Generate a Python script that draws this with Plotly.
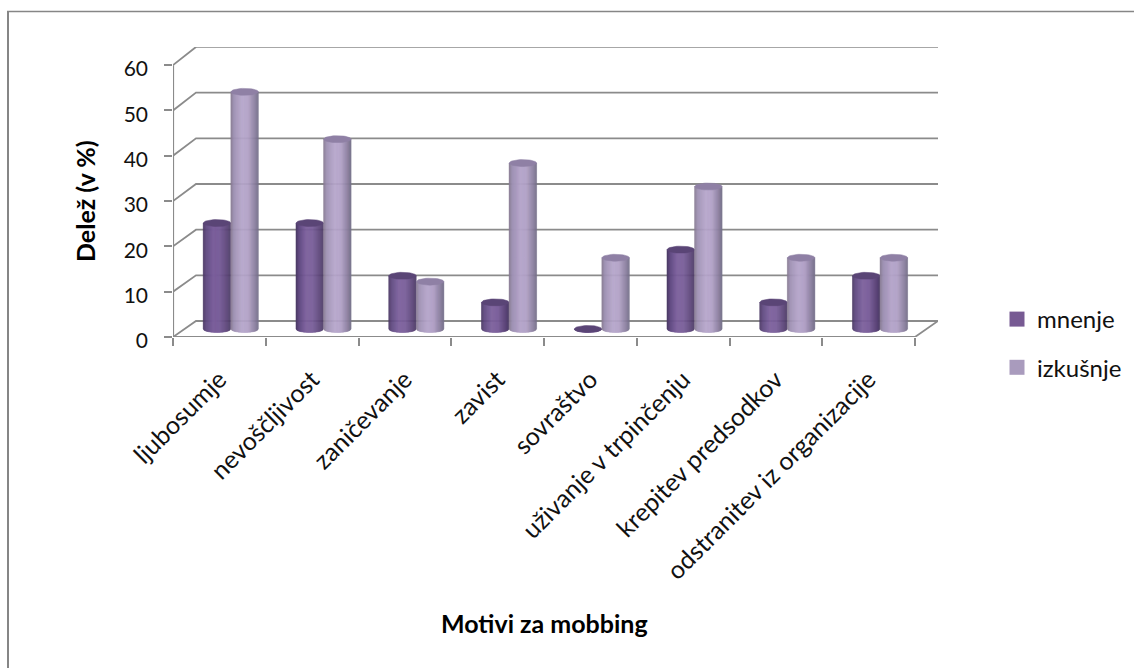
import math
import plotly.graph_objects as go

# Chart content
categories = ["ljubosumje", "nevoščljivost", "zaničevanje", "zavist", "sovraštvo",
              "uživanje v trpinčenju", "krepitev predsodkov", "odstranitev iz organizacije"]
mnenje = [23.5, 23.5, 11.8, 5.9, 0.0, 17.6, 5.9, 11.8]
izkusnje = [52.6, 42.1, 10.5, 36.8, 15.8, 31.6, 15.8, 15.8]
y_ticks = [0, 10, 20, 30, 40, 50, 60]

# Canvas and plot-area placement (pixels)
W, H = 1134, 668
LEFT, RIGHT, TOP, BOTTOM = 173, 938, 47, 337
LABEL_DROP = 4        # value labels sit slightly below their tick marks
EXTRA = LABEL_DROP + 2
X_MAX = 8.248
Y_MAX = 64.0

# Pseudo-3D box: offset of the back wall relative to the front plane
BACK_DX = 0.248
BACK_DY = 3.53
BACK_SCALE = 1.008

# Cylinder geometry in axis units
CENTER = {"mnenje": 0.474, "izkusnje": 0.772}
HALF_W = 0.148
CAP_B = 0.77
BASE_Y = 1.77
N_STRIPS = 28

GRID = "#8b8b8b"

GRAD_DARK = [(0.0, "#4a3763"), (0.12, "#5f4880"), (0.38, "#7b5f9c"), (0.62, "#785c98"),
             (0.88, "#5b4578"), (1.0, "#4e3d68")]
GRAD_LIGHT = [(0.0, "#84798f"), (0.12, "#9e90b3"), (0.42, "#b6a6cb"), (0.65, "#b0a0c5"),
              (0.88, "#8b7f9f"), (1.0, "#76708a")]
CAP_DARK = "#5a4576"
CAP_LIGHT = "#8f80a5"
LEGEND_DARK = "#775a93"
LEGEND_LIGHT = "#a99bbd"


def hex_rgb(c):
    return tuple(int(c[i:i + 2], 16) for i in (1, 3, 5))


def gradient(stops, t):
    for (p0, c0), (p1, c1) in zip(stops, stops[1:]):
        if t <= p1:
            f = (t - p0) / (p1 - p0)
            a, b = hex_rgb(c0), hex_rgb(c1)
            return "rgb({},{},{})".format(*[round(a[k] + (b[k] - a[k]) * f) for k in range(3)])
    return stops[-1][1]


def back_y(v):
    return BACK_DY + BACK_SCALE * v


def add_line(fig, xs, ys, width=1.8):
    fig.add_trace(go.Scatter(x=xs, y=ys, mode="lines", line=dict(color=GRID, width=width),
                             hoverinfo="skip", showlegend=False, cliponaxis=False))


def add_cylinders(fig, values, offset, stops, cap_color):
    # One trace per shade, holding that vertical strip of every cylinder
    for s in range(N_STRIPS):
        u0 = -1 + 2 * s / N_STRIPS
        u1 = -1 + 2 * (s + 1) / N_STRIPS
        xs, ys = [], []
        for i, v in enumerate(values):
            cx = i + offset
            top = BASE_Y + 0.995 * v
            x0, x1 = cx + HALF_W * u0, cx + HALF_W * u1
            y0 = BASE_Y - CAP_B * math.sqrt(max(0, 1 - u0 * u0))
            y1 = BASE_Y - CAP_B * math.sqrt(max(0, 1 - u1 * u1))
            xs += [x0, x1, x1, x0, x0, None]
            ys += [top, top, y1, y0, top, None]
        color = gradient(stops, (s + 0.5) / N_STRIPS)
        fig.add_trace(go.Scatter(x=xs, y=ys, mode="lines", fill="toself", fillcolor=color,
                                 line=dict(color=color, width=0.5),
                                 hoverinfo="skip", showlegend=False))
    # Elliptical top caps
    xs, ys = [], []
    for i, v in enumerate(values):
        cx = i + offset
        top = BASE_Y + 0.995 * v
        for k in range(41):
            ang = 2 * math.pi * k / 40
            xs.append(cx + HALF_W * math.cos(ang))
            ys.append(top + CAP_B * math.sin(ang))
        xs.append(None)
        ys.append(None)
    fig.add_trace(go.Scatter(x=xs, y=ys, mode="lines", fill="toself", fillcolor=cap_color,
                             line=dict(color=cap_color, width=0.5),
                             hoverinfo="skip", showlegend=False))


PLOT_H = BOTTOM + EXTRA - TOP


def paper_x(px):
    return (px - LEFT) / (RIGHT - LEFT)


def paper_y(px):
    return (BOTTOM + EXTRA - px) / PLOT_H


fig = go.Figure()

# Back wall, side wall and floor
for v in y_ticks:
    add_line(fig, [0, BACK_DX, X_MAX], [v, back_y(v), back_y(v)])
add_line(fig, [0, 0], [0, y_ticks[-1]], width=2.2)
add_line(fig, [0, 8, X_MAX], [0, 0, BACK_DY], width=1.8)

add_cylinders(fig, mnenje, CENTER["mnenje"], GRAD_DARK, CAP_DARK)
add_cylinders(fig, izkusnje, CENTER["izkusnje"], GRAD_LIGHT, CAP_LIGHT)

# Legend entries
fig.add_trace(go.Scatter(x=[None], y=[None], mode="markers", name="mnenje", legendgroup="a",
                         marker=dict(symbol="square", size=15, color=LEGEND_DARK)))
fig.add_trace(go.Scatter(x=[None], y=[None], mode="markers", name="izkušnje", legendgroup="b",
                         yaxis="y2",
                         marker=dict(symbol="square", size=15, color=LEGEND_LIGHT)))

FONT = "Lato, Carlito, Calibri, sans-serif"
fig.update_layout(
    width=W, height=H,
    margin=dict(l=LEFT, r=W - RIGHT, t=TOP, b=H - BOTTOM - EXTRA, autoexpand=False),
    paper_bgcolor="white", plot_bgcolor="rgba(0,0,0,0)",
    font=dict(family=FONT, size=24, color="#111111"),
    xaxis=dict(
        range=[0, X_MAX], showgrid=False, zeroline=False, showline=False, anchor="y",
        tickmode="array", tickvals=[i + 0.5 for i in range(len(categories))],
        ticktext=categories, tickangle=-45, ticks="", ticklabelstandoff=22,
        tickfont=dict(size=25, family=FONT),
        minor=dict(tickmode="array", tickvals=list(range(len(categories) + 1)),
                   ticks="outside", ticklen=8, tickwidth=1.8, tickcolor=GRID, showgrid=False),
    ),
    # Tick marks on the main value axis, labels on a twin axis nudged downwards
    yaxis=dict(
        domain=[EXTRA / PLOT_H, 1], range=[0, Y_MAX], showgrid=False, zeroline=False,
        showline=False, tickmode="array", tickvals=y_ticks, ticks="outside", ticklen=8,
        tickwidth=1.8, tickcolor=GRID, showticklabels=False,
    ),
    yaxis2=dict(
        domain=[(EXTRA - LABEL_DROP) / PLOT_H, 1 - LABEL_DROP / PLOT_H], range=[0, Y_MAX],
        anchor="x", side="left", showgrid=False, zeroline=False, showline=False,
        tickmode="array", tickvals=y_ticks, ticks="", ticklabelstandoff=24,
        tickfont=dict(size=21, family=FONT),
    ),
    legend=dict(x=paper_x(997), y=paper_y(297), xanchor="left", yanchor="top",
                bgcolor="rgba(0,0,0,0)", tracegroupgap=14,
                font=dict(size=24, family=FONT, color="#111111")),
    annotations=[
        dict(text="<b>Delež (v %)</b>", xref="paper", yref="paper", x=paper_x(85), y=paper_y(201),
             xanchor="center", yanchor="middle", textangle=-90, showarrow=False,
             font=dict(size=25, family=FONT, color="#000000")),
        dict(text="<b>Motivi za mobbing</b>", xref="paper", yref="paper", x=paper_x(544),
             y=paper_y(623), xanchor="center", yanchor="middle", showarrow=False,
             font=dict(size=25, family=FONT, color="#000000")),
    ],
    shapes=[
        dict(type="line", xref="paper", yref="paper", x0=paper_x(8), x1=paper_x(8),
             y0=paper_y(11), y1=paper_y(H), line=dict(color="#868686", width=2)),
        dict(type="line", xref="paper", yref="paper", x0=paper_x(7), x1=paper_x(W),
             y0=paper_y(11.5), y1=paper_y(11.5), line=dict(color="#868686", width=1.5)),
    ],
)

fig.write_html("out.html", config=dict(displayModeBar=False))
